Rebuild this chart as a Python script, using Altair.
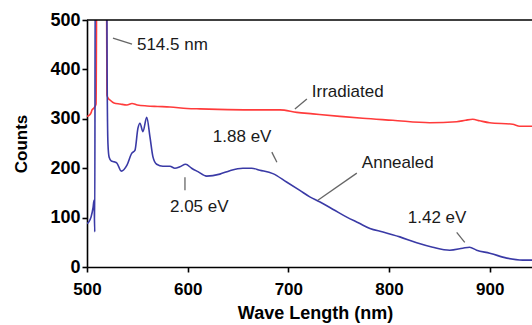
import altair as alt
import pandas as pd

# Irradiated spectrum (wavelength in nm, counts)
irr_nm = [500, 502, 504, 505, 507, 509, 509.8, 519.3, 519.8, 521, 522.8, 526.8, 532.8,
          539.7, 544.7, 550, 559.6, 570, 582.4, 599.3, 612.2, 630, 661.8, 691.6,
          708.4, 724.3, 751.1, 773.9, 803.7, 840.4, 867.2, 876, 883.1, 890, 900,
          922.8, 929.8, 942]
irr_counts = [305, 307, 312, 318, 322, 330, 620, 620, 348, 342, 338, 332, 330,
              328, 331, 328, 326, 325, 324, 321, 320, 319, 318, 318,
              313, 310, 305, 301, 297, 292, 294, 297, 299, 296, 292,
              289, 285, 285]

# Annealed spectrum
ann_nm = [500, 502, 504, 506, 507, 507.7, 508.2, 519.5, 520, 520.8, 522, 524, 526.8,
          529.8, 534, 539.7, 544.4, 547.6, 550.6, 552.6, 555.6, 559.3, 562.5,
          565.5, 569.2, 575.4, 582.4, 587.3, 592.3, 598, 603.9, 610.2, 618.8,
          632, 641.9, 654.8, 663.5, 671.7, 684.6, 698.2, 711.4, 721.3, 731, 745,
          758, 770, 781, 794, 810.7, 827.5, 843.4, 860.3, 873.2, 880, 887, 900,
          916.9, 932.8, 942]
ann_counts = [88, 92, 101, 120, 135, 71, 620, 620, 390, 250, 222, 215, 213,
              210, 194, 206, 230, 236, 281, 291, 274, 303, 264,
              223, 208, 204, 204, 200, 203, 208, 200, 193, 184,
              188, 195, 200, 200, 196, 189, 172, 155, 142, 132, 116,
              101, 89, 78, 71, 61, 49, 40, 34, 38, 40, 34, 28,
              18, 14, 14]

# Callout labels and their leader lines (data coordinates)
label_text = ["514.5 nm", "Irradiated", "1.88 eV", "2.05 eV", "Annealed", "1.42 eV"]
label_x = [549.6, 723.3, 625.0, 582.4, 773.0, 818.6]
label_y = [449, 354, 263, 121, 210, 99]
lead_x1 = [525.8, 706.5, 683.6, 597.3, 729.3, 867.2]
lead_y1 = [463.5, 319.6, 232.5, 181.8, 135.0, 70.0]
lead_x2 = [544.7, 718.4, 688.6, 597.3, 768.0, 875.2]
lead_y2 = [451.0, 340.0, 212.0, 155.5, 190.0, 50.0]

x_ticks = [500, 600, 700, 800, 900]
y_ticks = [0, 100, 200, 300, 400, 500]

irr = pd.DataFrame({"nm": irr_nm, "counts": irr_counts})
ann = pd.DataFrame({"nm": ann_nm, "counts": ann_counts})
labels = pd.DataFrame({"text": label_text, "x": label_x, "y": label_y})
leads = pd.DataFrame({"x": lead_x1, "y": lead_y1, "x2": lead_x2, "y2": lead_y2})

FONT = "Liberation Sans"

x_enc = alt.X(
    "nm:Q",
    scale=alt.Scale(domain=[500, 942], nice=False, zero=False),
    axis=alt.Axis(
        title="Wave Length (nm)", values=x_ticks, grid=False,
        domainColor="black", domainWidth=1.6, tickColor="black", tickWidth=1.6,
        tickSize=5, labelFont=FONT, labelFontSize=17, labelFontWeight="bold",
        labelColor="black", labelPadding=9, labelFlush=False,
        titleFont=FONT, titleFontSize=18, titleFontWeight="bold", titleColor="black",
        titleX=228, titleY=46, titleBaseline="middle",
    ),
)
y_enc = alt.Y(
    "counts:Q",
    scale=alt.Scale(domain=[0, 500], nice=False),
    axis=alt.Axis(
        title="Counts", values=y_ticks, grid=False,
        domainColor="black", domainWidth=1.6, tickColor="black", tickWidth=1.6,
        tickSize=5, labelFont=FONT, labelFontSize=18, labelFontWeight="bold",
        labelColor="black", labelPadding=2,
        titleFont=FONT, titleFontSize=17, titleFontWeight="bold", titleColor="black",
        titleX=-66, titleY=123.5, titleAngle=270, titleAlign="center",
        titleBaseline="middle",
    ),
)

red = alt.Chart(irr).mark_line(
    color="#ff3b3b", strokeWidth=1.6, clip=True, interpolate="monotone"
).encode(x=x_enc, y=y_enc, order="nm:Q")
blue = alt.Chart(ann).mark_line(
    color="#3a3aa6", strokeWidth=1.6, clip=True, interpolate="monotone"
).encode(x="nm:Q", y="counts:Q", order="nm:Q")
top = alt.Chart(pd.DataFrame({"y": [500]})).mark_rule(
    color="black", strokeWidth=1.6
).encode(y="y:Q")
leaders = alt.Chart(leads).mark_rule(color="#666666", strokeWidth=1.3).encode(
    x="x:Q", y="y:Q", x2="x2:Q", y2="y2:Q"
)
texts = alt.Chart(labels).mark_text(
    align="left", baseline="middle", font=FONT, fontSize=17, color="#1a1a1a"
).encode(x="x:Q", y="y:Q", text="text:N")

chart = (
    alt.layer(red, blue, top, leaders, texts)
    .properties(
        width=445, height=247,
        padding={"left": 87, "top": 20, "right": 0, "bottom": 58},
        autosize=alt.AutoSizeParams(type="none"),
        background="white",
    )
    .configure_view(stroke=None)
)

chart.save("out.html", embed_options={"renderer": "svg", "actions": False})
